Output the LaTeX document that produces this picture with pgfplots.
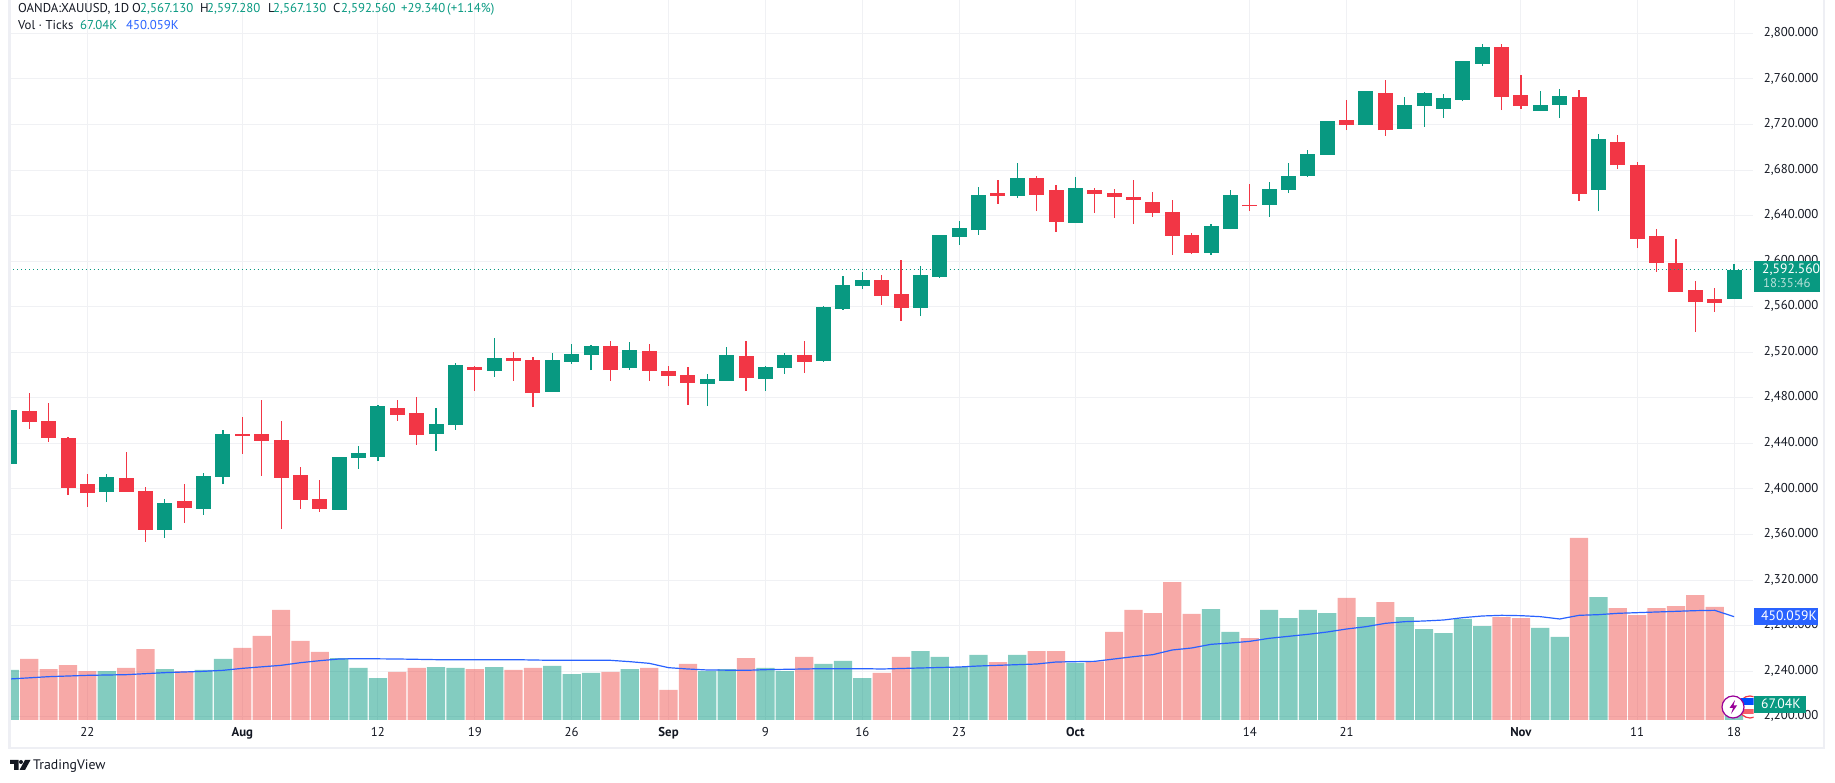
\documentclass[border=0pt]{standalone}
\usepackage{fontspec}
\setmainfont{PT Sans}
\usepackage{pgfplots}
\usepackage{pgfplotstable}
\pgfplotsset{compat=1.18}
\definecolor{upc}{HTML}{089981}
\definecolor{downc}{HTML}{F23645}
\definecolor{volup}{HTML}{089981}
\definecolor{voldown}{HTML}{EF5350}
\definecolor{mablue}{HTML}{2962FF}
\definecolor{ink}{HTML}{131722}
\definecolor{gridc}{HTML}{F0F1F4}
\definecolor{band}{HTML}{EEEFF4}

% i open high low close volume(K)
\pgfplotstableread{
i o h l c v
-4 2421.9 2469.3 2421.9 2469.3 217.8
1 2397.3 2413.1 2388.5 2410.5 213.4
4 2364.0 2391.2 2356.9 2387.7 222.1
6 2382.4 2414.0 2377.1 2411.4 217.8
7 2410.5 2451.8 2404.3 2448.2 265.7
13 2381.5 2428.1 2381.5 2428.1 270.0
14 2427.2 2437.7 2417.5 2431.6 226.5
15 2428.1 2473.7 2424.5 2472.8 182.9
18 2448.2 2471.1 2433.3 2457.0 230.8
19 2456.1 2510.6 2451.8 2508.8 226.5
21 2503.6 2532.5 2498.3 2515.0 230.8
24 2485.1 2519.4 2485.1 2513.2 235.2
25 2511.5 2527.3 2509.7 2518.5 200.3
26 2517.6 2526.4 2504.4 2525.5 204.7
28 2506.2 2529.0 2504.4 2522.0 222.1
32 2492.1 2500.9 2472.8 2496.5 213.4
33 2494.8 2524.6 2494.8 2517.6 222.1
35 2496.5 2507.9 2486.0 2507.1 226.5
36 2506.2 2519.4 2500.9 2517.6 213.4
38 2512.3 2560.6 2511.5 2559.7 243.9
39 2558.0 2587.0 2557.1 2579.1 257.0
40 2578.2 2590.5 2575.5 2583.4 182.9
43 2558.9 2595.7 2551.8 2587.8 300.5
44 2586.1 2623.0 2585.2 2623.0 274.4
45 2621.2 2635.2 2614.2 2629.1 230.8
46 2627.3 2665.1 2623.0 2658.1 283.1
48 2657.2 2686.2 2655.4 2673.0 283.1
51 2633.5 2673.9 2633.5 2664.2 248.3
58 2607.2 2632.6 2605.4 2630.9 483.4
59 2628.2 2662.5 2628.2 2658.1 383.3
61 2649.3 2669.5 2638.8 2663.3 479.1
62 2662.5 2686.2 2659.8 2674.8 444.2
63 2674.8 2697.6 2673.9 2694.1 479.1
64 2693.2 2723.0 2693.2 2723.0 466.0
66 2719.5 2749.4 2719.5 2749.4 448.6
68 2716.0 2744.1 2716.0 2737.1 448.6
69 2736.2 2748.5 2717.8 2747.6 396.3
70 2733.6 2746.7 2725.7 2743.2 378.9
71 2741.5 2775.7 2740.6 2775.7 439.9
72 2773.1 2790.6 2771.3 2788.0 409.4
75 2731.8 2749.4 2731.8 2737.1 400.7
76 2737.1 2751.1 2725.7 2745.0 361.5
78 2662.5 2711.6 2644.0 2707.2 535.7
85 2567.13 2597.28 2567.13 2592.56 67.04
}\upcandles

\pgfplotstableread{
i o h l c v
-3 2468.4 2483.9 2452.6 2458.8 265.7
-2 2459.7 2475.2 2441.2 2444.7 222.1
-1 2444.7 2445.6 2394.7 2400.8 239.5
0 2404.3 2413.1 2384.2 2396.4 213.4
2 2409.6 2432.4 2397.3 2397.3 226.5
3 2398.2 2401.7 2353.4 2364.0 309.2
5 2389.4 2404.3 2370.1 2383.3 213.4
8 2448.2 2463.2 2430.7 2446.5 313.6
9 2448.2 2478.1 2411.4 2442.1 365.9
10 2443.0 2459.7 2364.8 2409.6 479.1
11 2412.2 2419.3 2382.4 2390.3 344.1
12 2391.2 2407.9 2379.8 2382.4 296.2
16 2471.1 2478.1 2459.7 2464.9 209.1
17 2466.7 2480.7 2438.6 2447.4 226.5
20 2507.1 2507.9 2486.0 2504.4 222.1
22 2515.0 2520.2 2494.8 2512.3 217.8
23 2513.2 2515.8 2471.9 2484.2 226.5
27 2525.5 2529.9 2494.8 2504.4 209.1
29 2521.1 2527.3 2494.8 2503.6 226.5
30 2503.6 2507.9 2490.4 2499.2 130.7
31 2500.0 2507.1 2473.7 2493.0 243.9
34 2516.7 2529.9 2486.0 2497.4 270.0
37 2517.6 2529.9 2501.8 2511.5 274.4
41 2583.4 2587.8 2561.5 2569.4 204.7
42 2571.2 2601.0 2547.5 2558.9 274.4
47 2659.8 2671.2 2650.2 2657.2 252.6
49 2673.0 2674.8 2644.0 2658.1 300.5
50 2662.5 2666.9 2625.6 2634.4 300.5
52 2662.5 2664.2 2642.3 2659.0 255.5
53 2659.8 2663.3 2637.9 2656.3 383.3
54 2656.3 2671.2 2632.6 2653.7 479.1
55 2651.9 2660.7 2638.8 2642.3 466.0
56 2643.1 2653.7 2605.4 2622.1 601.0
57 2623.0 2624.7 2606.3 2607.2 461.7
60 2649.0 2667.7 2644.0 2648.1 357.1
65 2723.9 2741.5 2715.1 2719.5 531.4
67 2747.6 2759.0 2709.9 2715.1 513.9
73 2788.0 2790.6 2732.7 2744.1 448.6
74 2745.9 2763.4 2733.6 2736.2 444.2
77 2744.1 2750.3 2652.8 2659.0 792.7
79 2704.6 2710.7 2680.9 2684.4 487.8
80 2684.4 2687.0 2611.5 2619.4 457.3
81 2622.1 2628.2 2590.5 2598.4 487.8
82 2598.4 2619.4 2572.9 2572.9 496.5
83 2574.7 2582.6 2537.8 2564.1 544.4
84 2566.8 2576.4 2555.4 2563.3 492.2
}\downcandles

% volume moving average (K)
\pgfplotstableread{
i v
-4 178.6
-2 188.7
0 194.5
2 197.4
4 206.2
6 212.0
7 216.3
8 225.0
10 238.1
11 249.7
12 258.4
13 265.7
14 267.1
16 265.7
18 262.8
22 262.8
24 259.9
27 259.9
28 254.1
29 246.8
30 227.9
31 222.1
32 217.8
34 216.3
35 219.2
36 220.7
38 223.6
40 223.6
41 222.1
43 226.5
45 230.8
46 235.2
47 238.1
49 243.9
50 252.6
52 255.5
53 265.7
54 275.8
55 284.6
56 304.9
57 313.6
58 329.6
59 335.4
60 342.6
61 355.7
62 364.4
63 373.1
64 383.3
65 396.3
66 406.5
67 421.0
68 428.3
69 431.2
70 435.5
71 445.7
72 453.0
73 455.9
74 454.4
75 450.1
76 439.9
77 455.9
78 458.8
79 464.6
80 467.5
81 470.4
82 473.3
83 476.2
84 477.6
85 450.06
}\volma

\newcommand{\candles}[2]{%
  \addplot[draw=none,mark=none,error bars/.cd,y dir=plus,y explicit,error mark=none,
    error bar style={line width=1.2pt,draw=#2}]
    table[x=i,y=l,y error plus expr=\thisrow{h}-\thisrow{l}] {#1};
  \addplot[draw=none,mark=none,error bars/.cd,y dir=plus,y explicit,error mark=none,
    error bar style={line width=15pt,draw=#2}]
    table[x=i,y expr={min(\thisrow{o},\thisrow{c})},y error plus expr={abs(\thisrow{c}-\thisrow{o})}] {#1};
}
\newcommand{\tfont}{\fontsize{12.8}{15}\selectfont}
\newcommand{\tagfont}{\fontsize{13.6}{15}\selectfont}
\newcommand{\tok}[4]{\node[anchor=base west,inner sep=0pt,text=#3,font=\tfont] at (#1,#2) {#4};}

\begin{document}
\begin{tikzpicture}[x=1pt,y=1pt]
\path[use as bounding box] (0,0) rectangle (1835,783);

\begin{axis}[
    at={(9.5pt,63pt)},anchor=south west,scale only axis,
    width=1744pt,height=720pt,
    xmin=-4.02,xmax=86,ymin=2197.1,ymax=2829.3,
    axis line style={draw=none},
    major tick length=0pt,
    grid=major,grid style={color=gridc,line width=1pt},
    xtick={0,8,15,20,25,30,35,40,45,51,60,65,74,80,85},
    xticklabels={22,\textbf{Aug},12,19,26,\textbf{Sep},9,16,23,\textbf{Oct},14,21,\textbf{Nov},11,18},
    ytick={2200,2240,...,2800},
    ytick pos=right,
    yticklabel style={anchor=west,xshift=7pt,yshift=0.5pt,/pgf/number format/.cd,fixed,fixed zerofill,precision=3,1000 sep={,},assume math mode=true},
    xticklabel style={yshift=-3.5pt},
    tick label style={text=ink,font=\tfont},
    ]
\candles{\upcandles}{upc}
\candles{\downcandles}{downc}
\addplot[upc,line width=1pt,dash pattern=on 1pt off 3pt] coordinates {(-4.02,2592.56) (86,2592.56)};
\end{axis}

\begin{axis}[
    at={(9.5pt,63pt)},anchor=south west,scale only axis,
    width=1744pt,height=720pt,
    xmin=-4.02,xmax=86,ymin=0,ymax=3136,
    hide axis,
    ]
\addplot[ybar,bar width=18.2pt,bar shift=0pt,draw=none,fill=volup,fill opacity=0.5] table[x=i,y=v] {\upcandles};
\addplot[ybar,bar width=18.2pt,bar shift=0pt,draw=none,fill=voldown,fill opacity=0.5] table[x=i,y=v] {\downcandles};
\addplot[mablue,line width=1.2pt] table[x=i,y=v] {\volma};
\end{axis}

% pane frame
\fill[band] (8,34) rectangle (10.5,783);
\fill[band] (8,34) rectangle (1825,36);
\fill[band] (1823,34) rectangle (1825,783);

% legend
\tok{18}{770}{ink}{OANDA:XAUUSD, 1D}
\tok{132}{770}{ink}{O}\tok{140}{770}{upc}{2,567.130}
\tok{200}{770}{ink}{H}\tok{207}{770}{upc}{2,597.280}
\tok{268}{770}{ink}{L}\tok{273}{770}{upc}{2,567.130}
\tok{333}{770}{ink}{C}\tok{341}{770}{upc}{2,592.560}
\tok{401}{770}{upc}{+29.340}\tok{447}{770}{upc}{(+1.14\%)}
\tok{18}{753}{ink}{Vol · Ticks}
\tok{80}{753}{upc}{67.04K}\tok{126}{753}{mablue}{450.059K}

% icons near the last bar
\begin{scope}
\clip (1700,60) rectangle (1753.5,95);
\draw[downc,line width=1.2pt,fill=white] (1750,76) circle (11);
\fill[blue!70!cyan] (1741,78) rectangle (1760,85);
\fill[downc!80] (1741,69) rectangle (1760,74);
\end{scope}
\draw[violet!80!magenta,line width=1.2pt,fill=white] (1733,76) circle (11);
\fill[violet!80!magenta] (1735,83) -- (1729.5,75) -- (1733,75) -- (1731,69) -- (1737,77.5) -- (1733.5,77.5) -- cycle;

% last value tags
\fill[upc] (1753.5,491) rectangle (1820,522);
\node[anchor=base west,inner sep=0pt,text=white,font=\tagfont] at (1762,509) {2,592.560};
\node[anchor=base west,inner sep=0pt,text=white!70!upc,font=\tfont] at (1763,495) {18:35:46};
\fill[mablue] (1753.5,158) rectangle (1818,175);
\node[anchor=base west,inner sep=0pt,text=white,font=\tagfont] at (1761,162) {450.059K};
\fill[upc] (1753.5,70) rectangle (1806,87);
\node[anchor=base west,inner sep=0pt,text=white,font=\tagfont] at (1761,74) {67.04K};

% TradingView mark
\fill[ink] (10,23) -- (18.5,23) -- (18.5,13) -- (14,13) -- (14,19) -- (10,19) -- cycle;
\fill[ink] (21,21) circle (2);
\fill[ink] (25,23) -- (30.5,23) -- (25,13) -- (19.5,13) -- cycle;
\node[anchor=base west,inner sep=0pt,text=ink,font=\fontsize{13.8}{15}\selectfont] at (33,13) {TradingView};
\end{tikzpicture}
\end{document}
